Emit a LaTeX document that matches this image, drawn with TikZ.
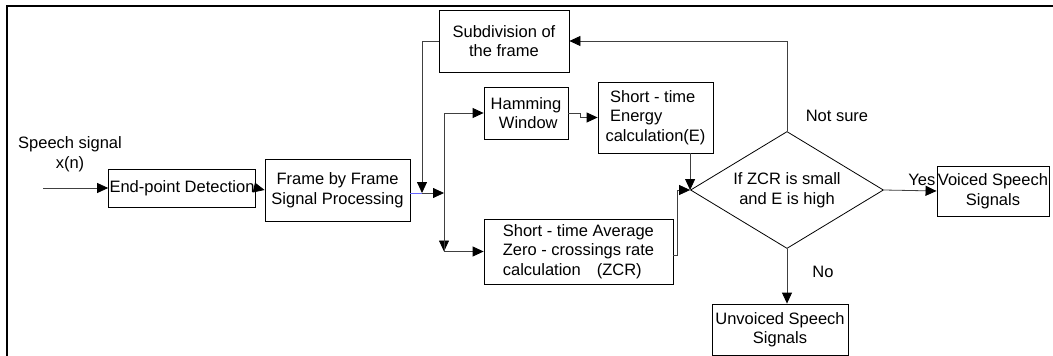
\documentclass[tikz,border=0pt]{standalone}
\usepackage{fontspec}
\setmainfont{Liberation Sans}
\usetikzlibrary{arrows.meta,shapes.geometric,positioning}
\tikzset{>={Triangle[length=11pt,width=10pt,color=black]},
         txt/.style={font=\fontsize{16.5}{19.5}\selectfont, inner sep=1pt},
         block/.style={txt, draw, line width=0.8pt, align=center},
         link/.style={->, draw=black!75, line width=0.8pt},
         every picture/.style={line join=miter}}

\begin{document}
\begin{tikzpicture}[x=1pt,y=-1pt]
	\useasboundingbox (0,0) rectangle (1053,356);
	\draw[line width=2.2pt] (7,356) -- (7,6) -- (1053,6);
	% blocks
	\node[txt, align=center] (sig) at (70,154) {Speech signal\\x(n)};
	\coordinate (in) at (43,188);
	\node[block, minimum width=144, minimum height=38] (ep) at (182,188) {End-point Detection};
	\node[block, minimum width=145, minimum height=62] (fr) at (337.5,190) {Frame by Frame\\Signal Processing};
	\node[block, minimum width=130, minimum height=62] (sub) at (504,41) {Subdivision of\\the frame};
	\node[block, minimum width=84, minimum height=52] (ham) at (526,113) {Hamming\\\ Window};
	\node[block, align=left, minimum width=115, minimum height=71] (en) at (655.5,117.5)
		{\ Short - time\\\ Energy\\calculation(E)};
	\node[block, align=left, minimum width=189, minimum height=65] (zcr) at (578.5,251.5)
		{Short - time Average\\Zero - crossings rate\\calculation\hspace{16pt}(ZCR)};
	\node[block, shape=diamond, aspect=1.65, inner sep=0pt, minimum width=193, minimum height=117] (dec) at (787,190)
		{If ZCR is small\\ and E is high};
	\node[block, minimum width=112, minimum height=50] (vs) at (993,191) {Voiced Speech\\Signals};
	\node[block, minimum width=136, minimum height=51] (us) at (780,329.5) {Unvoiced Speech\\Signals};
	% connectors
	\coordinate (jn) at (422,193);
	\coordinate (sp) at (444,193);
	\draw[link] (in) -- (ep.west);
	\draw[link] (ep.east) -- (fr.west);
	\draw[draw=blue!60, line width=0.6pt] (fr.east |- jn) -- (jn);
	\draw[link] (jn) -- (sp);
	\draw[link] (sub.west) -| (jn);
	\draw[link] (sp |- ham.west) -- (sp |- zcr.west);
	\draw[link] (sp) |- (ham.west);
	\draw[link] (sp) |- (zcr.west);
	\draw[link] (ham.east) -- ++(12,0) |- (en.west);
	\draw[link] (en.south -| dec.west) -- (dec.west);
	\draw[link] ([yshift=-3.5]zcr.east) -- ++(4,0) |- (dec.west);
	\draw[link] (dec.north) |- (sub.east);
	\draw[link] (dec.east) -- (vs.west) node[txt, pos=0.72, above, yshift=4] (yes) {Yes};
	\draw[link] (dec.south) -- (dec.south |- us.north);
	\node[txt] (nsure) at (837,116) {Not sure};
	\node[txt] (no) at (823,272) {No};
\end{tikzpicture}
\end{document}
